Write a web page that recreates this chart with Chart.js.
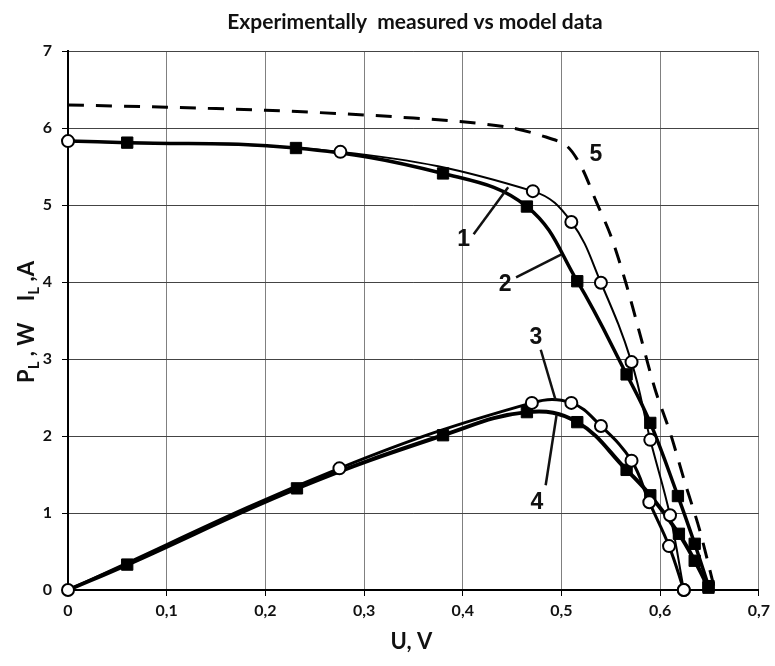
<!DOCTYPE html>
<html>
<head>
<meta charset="utf-8">
<script src="https://cdn.jsdelivr.net/npm/chart.js@4.4.0/dist/chart.umd.min.js"></script>
<style>
  body { margin: 0; background: #fff; }
</style>
</head>
<body>
<canvas id="myChart" width="775" height="666"></canvas>
<script>
// values
const xTicks = [0, 0.1, 0.2, 0.3, 0.4, 0.5, 0.6, 0.7]
const xTickLabels = ['0', '0,1', '0,2', '0,3', '0,4', '0,5', '0,6', '0,7']
const yTicks = [0, 1, 2, 3, 4, 5, 6, 7]

// curve 1 - current, open circles
const u1 = [0, 0.276, 0.471, 0.510, 0.540, 0.571, 0.590, 0.610, 0.624]
const i1 = [5.83, 5.69, 5.18, 4.78, 3.99, 2.96, 1.95, 0.97, 0]
// curve 2 - current, filled squares
const u2 = [0, 0.06, 0.231, 0.380, 0.465, 0.516, 0.566, 0.590, 0.618, 0.635, 0.649]
const i2 = [5.83, 5.81, 5.74, 5.41, 4.98, 4.01, 2.80, 2.17, 1.22, 0.60, 0.05]
// curve 3 - power, open circles
const u3 = [0, 0.275, 0.470, 0.510, 0.540, 0.571, 0.589, 0.609, 0.624]
const p3 = [0, 1.58, 2.43, 2.43, 2.13, 1.68, 1.14, 0.57, 0]
// curve 4 - power, filled squares
const u4 = [0, 0.06, 0.232, 0.380, 0.465, 0.516, 0.566, 0.590, 0.619, 0.635, 0.649]
const p4 = [0, 0.33, 1.32, 2.01, 2.31, 2.18, 1.56, 1.23, 0.73, 0.38, 0.03]
// curve 5 - dashed model
const u5 = [0, 0.1, 0.2, 0.3, 0.4, 0.45, 0.48, 0.505, 0.52, 0.535, 0.55, 0.565, 0.58, 0.595, 0.61, 0.625, 0.64, 0.655]
const i5 = [6.30, 6.27, 6.23, 6.17, 6.08, 6.0, 5.9, 5.77, 5.5, 5.05, 4.6, 4.0, 3.3, 2.6, 2.05, 1.4, 0.78, 0.02]

// curve numbers: text position and leader line (data coords)
const curveLabels = [
  { text: '1', at: [0.401, 4.55], from: [0.411, 4.62], to: [0.446, 5.23] },
  { text: '2', at: [0.443, 3.96], from: [0.454, 4.06], to: [0.500, 4.36] },
  { text: '3', at: [0.474, 3.28], from: [0.479, 3.12], to: [0.494, 2.47] },
  { text: '4', at: [0.475, 1.14], from: [0.484, 1.36], to: [0.495, 2.27] },
  { text: '5', at: [0.535, 5.65] }
]

function toPoints(xs, ys) {
  return xs.map((x, i) => ({ x, y: ys[i] }))
}

function hideFirst(arr, r) {
  return arr.map((v, i) => (i === 0 ? 0 : r))
}

const circleStyle = {
  pointStyle: 'circle',
  pointRadius: 6,
  pointBackgroundColor: '#fff',
  pointBorderColor: '#000',
  pointBorderWidth: 2,
  borderColor: '#000',
  clip: false
}
const squareStyle = {
  pointStyle: 'rect',
  pointBackgroundColor: '#000',
  pointBorderColor: '#000',
  pointBorderWidth: 1,
  borderColor: '#000',
  clip: false
}

const datasets = [
  { label: '1', data: toPoints(u1, i1), borderWidth: 2, tension: 0.4, ...circleStyle },
  { label: '3', data: toPoints(u3, p3), borderWidth: 3, tension: 0.4, ...circleStyle },
  { label: '2', data: toPoints(u2, i2), borderWidth: 3.5, tension: 0.4, pointRadius: hideFirst(u2, 8), ...squareStyle },
  { label: '4', data: toPoints(u4, p4), borderWidth: 4, tension: 0.4, pointRadius: hideFirst(u4, 8), ...squareStyle },
  { label: '5', data: toPoints(u5, i5), borderWidth: 3, borderDash: [16, 12], tension: 0.3, pointRadius: 0, borderColor: '#000' }
]

const textPlugin = {
  id: 'textPlugin',
  afterDatasetsDraw(chart) {
    const { ctx, scales: { x, y } } = chart
    ctx.save()
    ctx.strokeStyle = '#111'
    ctx.fillStyle = '#111'
    ctx.lineWidth = 2.5
    curveLabels.forEach(l => {
      if (l.from) {
        ctx.beginPath()
        ctx.moveTo(x.getPixelForValue(l.from[0]), y.getPixelForValue(l.from[1]))
        ctx.lineTo(x.getPixelForValue(l.to[0]), y.getPixelForValue(l.to[1]))
        ctx.stroke()
      }
      ctx.font = 'bold 23px "Liberation Sans", Arial'
      ctx.textAlign = 'center'
      ctx.textBaseline = 'middle'
      ctx.fillText(l.text, x.getPixelForValue(l.at[0]), y.getPixelForValue(l.at[1]))
    })
    ctx.restore()
  },
  afterDraw(chart) {
    const { ctx, chartArea } = chart
    ctx.save()
    ctx.fillStyle = '#111'
    ctx.textAlign = 'center'
    ctx.textBaseline = 'middle'
    // title
    ctx.font = 'bold 21px Lato, "Open Sans"'
    ctx.fillText('Experimentally  measured vs model data', 415, 22)
    // x title
    ctx.font = 'bold 22px Lato, "Open Sans"'
    ctx.fillText('U, V', (chartArea.left + chartArea.right) / 2 - 2, 642)
    // y title with subscripts
    const parts = [
      { t: 'P' }, { t: 'L', sub: true }, { t: ' , W    I' }, { t: 'L', sub: true }, { t: ' ,A' }
    ]
    const big = 'bold 22px Lato, "Open Sans"'
    const small = 'bold 15px Lato, "Open Sans"'
    let total = 0
    parts.forEach(p => { ctx.font = p.sub ? small : big; p.w = ctx.measureText(p.t).width; total += p.w })
    ctx.translate(27, 322)
    ctx.rotate(-Math.PI / 2)
    ctx.textAlign = 'left'
    let cx = -total / 2
    parts.forEach(p => {
      ctx.font = p.sub ? small : big
      ctx.fillText(p.t, cx, p.sub ? 7 : 0)
      cx += p.w
    })
    ctx.restore()
  }
}

const tickFont = { family: 'Lato, "Open Sans"', size: 16, weight: 'bold' }

new Chart(document.querySelector('#myChart'), {
  type: 'line',
  data: { datasets },
  options: {
    responsive: false,
    animation: false,
    devicePixelRatio: 1,
    layout: { padding: { left: 0, top: 51, right: 14, bottom: 0 } },
    plugins: { legend: { display: false }, tooltip: { enabled: false } },
    scales: {
      x: {
        type: 'linear',
        min: 0,
        max: 0.7,
        afterBuildTicks: scale => { scale.ticks = xTicks.map(v => ({ value: v })) },
        afterFit: scale => { scale.height = 76 },
        ticks: { color: '#111', font: tickFont, padding: 5, maxRotation: 0, callback: (v, i) => xTickLabels[i] },
        grid: { color: '#808080', lineWidth: 1, tickLength: 6, tickColor: '#000' },
        border: { color: '#000', width: 2 }
      },
      y: {
        type: 'linear',
        min: 0,
        max: 7,
        afterBuildTicks: scale => { scale.ticks = yTicks.map(v => ({ value: v })) },
        afterFit: scale => { scale.width = 68 },
        ticks: { color: '#111', font: tickFont, padding: 10 },
        grid: { color: '#444', lineWidth: 1, tickLength: 6, tickColor: '#000' },
        border: { color: '#000', width: 2 }
      }
    }
  },
  plugins: [textPlugin]
})
</script>
</body>
</html>
